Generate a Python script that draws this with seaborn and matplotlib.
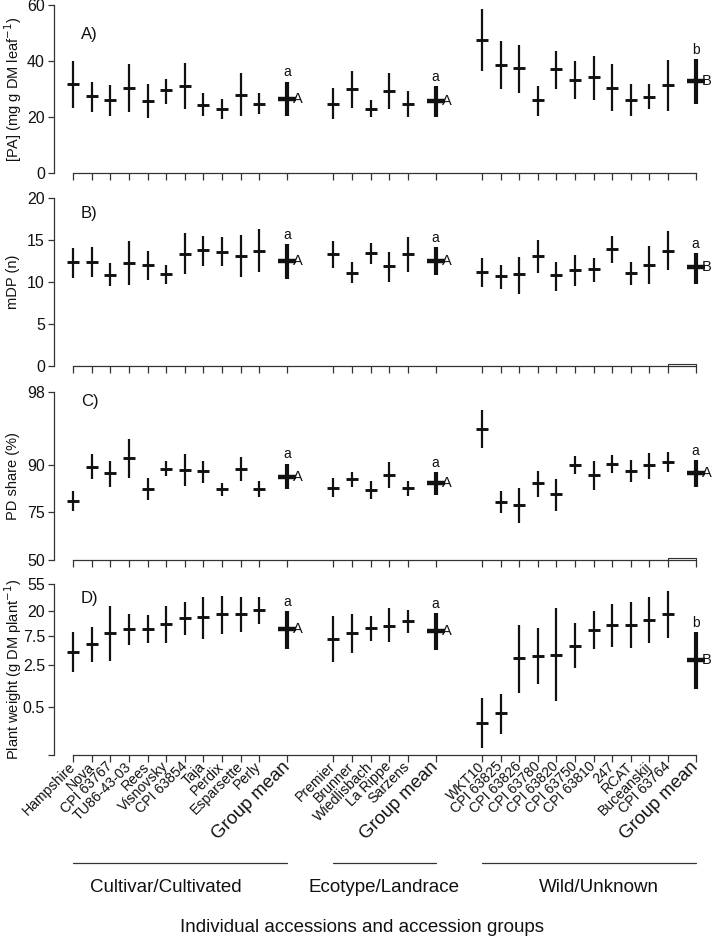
import numpy as np
import pandas as pd
import matplotlib
matplotlib.use("Agg")
import matplotlib.pyplot as plt
import matplotlib.transforms as mtrans
import seaborn as sns
from matplotlib.ticker import NullLocator

# ---------------- data ----------------
cult_names = ["Hampshire", "Nova", "CPI 63767", "TU86-43-03", "Rees", "Visnovsky",
              "CPI 63854", "Taja", "Perdix", "Esparsette", "Perly"]
eco_names = ["Premier", "Brunner", "Wiedlisbach", "La Rippe", "Sarzens"]
wild_names = ["WKT10", "CPI 63825", "CPI 63826", "CPI 63780", "CPI 63820", "CPI 63750",
              "CPI 63810", "247", "RCAT", "Buceanskij", "CPI 63764"]
group_titles = ["Cultivar/Cultivated", "Ecotype/Landrace", "Wild/Unknown"]
mean_label = "Group mean"

# order: 11 cultivated, group mean, 5 ecotype, group mean, 11 wild, group mean
pa_mean = [31.7, 27.4, 26.2, 30.5, 25.8, 29.6, 31.1, 24.5, 23.0, 28.0, 24.8, 26.4,
           24.8, 29.9, 23.0, 29.3, 24.6, 25.9,
           47.6, 38.5, 37.5, 26.1, 37.2, 33.4, 34.3, 30.5, 26.1, 27.3, 31.5, 32.9]
pa_lo = [23.4, 21.7, 20.5, 21.7, 19.8, 24.8, 22.9, 20.3, 19.4, 20.5, 21.2, 20.3,
         19.2, 23.4, 20.0, 22.8, 20.0, 20.0,
         36.6, 29.9, 28.7, 20.4, 29.9, 26.5, 26.1, 22.2, 20.4, 23.0, 22.3, 24.7]
pa_hi = [40.0, 32.5, 31.5, 39.0, 31.7, 33.7, 39.4, 28.5, 26.6, 35.7, 28.5, 32.7,
         30.5, 36.6, 26.1, 35.7, 29.3, 31.1,
         58.5, 47.1, 45.7, 31.1, 43.7, 40.0, 41.9, 38.9, 31.8, 31.8, 40.4, 40.6]

mdp_mean = [12.32, 12.32, 10.85, 12.2, 12.0, 10.93, 13.35, 13.75, 13.58, 13.1, 13.7, 12.48,
            13.27, 11.05, 13.4, 11.92, 13.3, 12.44,
            11.17, 10.66, 10.9, 13.07, 10.78, 11.37, 11.49, 13.94, 11.05, 12.04, 13.7, 11.76]
mdp_lo = [10.46, 10.58, 9.5, 9.63, 10.26, 9.74, 10.9, 11.88, 11.88, 10.6, 11.2, 10.3,
          11.6, 9.83, 12.16, 10.02, 11.2, 10.8,
          9.39, 9.19, 8.56, 11.05, 8.95, 9.5, 10.02, 12.2, 9.63, 9.74, 11.4, 9.78]
mdp_hi = [14.06, 14.14, 12.2, 14.8, 13.67, 12.0, 15.8, 15.45, 15.3, 15.57, 16.24, 14.5,
          14.85, 12.32, 14.58, 13.58, 15.3, 14.1,
          12.87, 11.96, 13.0, 14.97, 12.32, 13.19, 12.8, 15.49, 12.32, 14.22, 16.04, 13.46]

pd_mean = [79.7, 89.6, 88.1, 91.4, 83.7, 89.2, 89.0, 88.6, 83.7, 89.2, 83.7, 87.2,
           84.1, 86.7, 83.5, 87.8, 84.0, 85.5,
           95.4, 79.4, 78.1, 85.6, 82.0, 90.0, 87.8, 90.3, 88.7, 90.0, 90.7, 88.1]
pd_lo = [75.6, 86.7, 84.4, 87.0, 79.9, 87.5, 84.8, 85.7, 81.5, 86.0, 81.0, 83.7,
         81.0, 84.4, 80.3, 84.0, 81.6, 81.8,
         93.0, 74.9, 70.0, 81.2, 75.6, 87.9, 83.5, 88.1, 85.8, 86.7, 88.5, 84.3]
pd_hi = [83.1, 92.0, 90.8, 94.3, 87.0, 90.8, 92.1, 90.8, 85.7, 91.6, 86.0, 90.3,
         86.9, 88.5, 86.2, 90.7, 86.1, 88.4,
         97.0, 83.1, 84.2, 88.7, 86.6, 91.7, 90.8, 91.9, 90.9, 92.2, 92.4, 91.0]

pw_mean = [4.04, 5.62, 8.48, 9.77, 9.77, 12.0, 14.9, 15.5, 17.6, 17.6, 20.7, 9.77,
           6.73, 8.38, 10.4, 11.2, 13.4, 9.15,
           0.264, 0.388, 3.21, 3.54, 3.64, 5.2, 9.4, 11.5, 11.5, 14.1, 17.4, 3.0]
pw_lo = [1.88, 2.82, 2.89, 5.4, 5.7, 5.77, 7.85, 6.81, 8.06, 8.91, 11.8, 4.59,
         2.75, 3.89, 6.16, 5.93, 8.57, 4.41,
         0.101, 0.173, 0.837, 1.18, 0.623, 2.19, 4.59, 4.95, 4.71, 5.7, 7.07, 0.987]
pw_hi = [8.7, 10.8, 24.2, 17.4, 16.7, 24.2, 28.2, 33.4, 35.5, 33.4, 34.2, 20.0,
         16.3, 17.6, 16.3, 21.9, 20.7, 18.1,
         0.69, 0.814, 11.5, 10.4, 21.9, 12.3, 19.8, 26.1, 27.6, 33.8, 42.0, 8.91]

small_letters = {"A": ["a", "a", "b"], "B": ["a", "a", "a"], "C": ["a", "a", "a"], "D": ["a", "a", "b"]}
cap_letters = {"A": ["A", "A", "B"], "B": ["A", "A", "B"], "C": ["A", "A", "A"], "D": ["A", "A", "B"]}

pa_ticks = [0, 20, 40, 60]
mdp_ticks = [0, 5, 10, 15, 20]
pd_ticks = [50, 75, 90, 98]
pw_ticks = [0.078, 0.5, 2.5, 7.5, 20, 55]
pw_ticklabels = ["", "0.5", "2.5", "7.5", "20", "55"]

# ---------------- layout positions ----------------
labels, pos, is_mean = [], [], []
start = 1.0
for names in (cult_names, eco_names, wild_names):
    for i, n in enumerate(names):
        labels.append(n); pos.append(start + i); is_mean.append(False)
    gm = start + len(names) - 1 + 1.5
    labels.append(mean_label); pos.append(gm); is_mean.append(True)
    start = gm + 2.5

df = pd.DataFrame({"label": labels, "pos": pos, "is_mean": is_mean,
                   "pa": pa_mean, "pa_lo": pa_lo, "pa_hi": pa_hi,
                   "mdp": mdp_mean, "mdp_lo": mdp_lo, "mdp_hi": mdp_hi,
                   "pd": pd_mean, "pd_lo": pd_lo, "pd_hi": pd_hi,
                   "pw": pw_mean, "pw_lo": pw_lo, "pw_hi": pw_hi})

sns.set_theme(style="ticks")
plt.rcParams["font.family"] = ["Liberation Sans", "DejaVu Sans"]

W, H = 714, 939
fig = plt.figure(figsize=(W / 100, H / 100), dpi=100)

xl, xr = -0.04, 35.45
left = 54 / W
width = 659.4 / W

def fwd(p):
    p = np.clip(np.asarray(p, dtype=float), 1e-6, 100 - 1e-6)
    return np.log(p / (100 - p))

def inv(l):
    return 100.0 / (1.0 + np.exp(-np.asarray(l, dtype=float)))

panels = [
    ("A", "pa", (5, 173.3), (0, 60), pa_ticks, [str(t) for t in pa_ticks],
     "[PA] (mg g DM leaf$^{-1}$)", "linear", 0.822, False),
    ("B", "mdp", (197.7, 366), (0, 20), mdp_ticks, [str(t) for t in mdp_ticks],
     "mDP (n)", "linear", 0.907, True),
    ("C", "pd", (391.7, 560), (50, 98), pd_ticks, [str(t) for t in pd_ticks],
     "PD share (%)", "logit", 0.94, True),
    ("D", "pw", (584.3, 755), (0.078, 55), pw_ticks, pw_ticklabels,
     "Plant weight (g DM plant$^{-1}$)", "log", 0.918, False),
]

ink = "#111111"
axes = []
for key, col, (ytop, ybot), ylim, yt, ytl, ylab, scale, ly, bump in panels:
    ax = fig.add_axes([left, (H - ybot) / H, width, (ybot - ytop) / H])
    axes.append(ax)
    ind = df[~df.is_mean]
    gm = df[df.is_mean]
    ax.vlines(ind["pos"], ind[col + "_lo"], ind[col + "_hi"], color=ink, lw=1.6)
    ax.vlines(gm["pos"], gm[col + "_lo"], gm[col + "_hi"], color=ink, lw=3.0)
    sns.scatterplot(data=ind, x="pos", y=col, marker="_", s=70, linewidth=2.1,
                    color=ink, ax=ax, legend=False)
    sns.scatterplot(data=gm, x="pos", y=col, marker="_", s=160, linewidth=3.2,
                    color=ink, ax=ax, legend=False)
    if scale == "log":
        ax.set_yscale("log")
    elif scale == "logit":
        ax.set_yscale("function", functions=(fwd, inv))
    ax.set_xlim(xl, xr)
    ax.set_ylim(*ylim)
    ax.set_yticks(yt)
    ax.set_yticklabels(ytl)
    ax.yaxis.set_minor_locator(NullLocator())
    ax.xaxis.set_minor_locator(NullLocator())
    ax.set_xticks(df["pos"])
    ax.set_xlabel("")
    ax.set_ylabel("")
    sns.despine(ax=ax)
    ax.spines["left"].set_bounds(yt[0], yt[-1])
    ax.spines["bottom"].set_bounds(df["pos"].iloc[0], df["pos"].iloc[-1])
    for s in ("left", "bottom"):
        ax.spines[s].set_linewidth(0.9)
        ax.spines[s].set_color("#333333")
    ax.tick_params(axis="y", length=4.5, width=0.9, color="#333333",
                   labelsize=11.5, labelcolor=ink, pad=2)
    ax.tick_params(axis="x", length=4.8, width=0.9, color="#333333",
                   labelcolor=ink, pad=2)
    ax.patch.set_alpha(0)
    if bump:
        hb = 2.0 / (ybot - ytop)
        p_last = df["pos"].iloc[-1]
        p_prev = df["pos"].iloc[-2]
        ax.plot([p_prev, p_prev, p_last, p_last], [0, hb, hb, 0],
                transform=ax.get_xaxis_transform(), color="#333333", lw=0.8,
                clip_on=False)
    # panel letter
    ax.text(1.41, ly, key + ")", transform=ax.get_xaxis_transform(),
            fontsize=12, color=ink, va="center", ha="left")
    # significance letters
    for (_, r), sl, cl in zip(gm.iterrows(), small_letters[key], cap_letters[key]):
        ax.annotate(sl, (r["pos"], r[col + "_hi"]), xytext=(0, 1.5),
                    textcoords="offset points", ha="center", va="bottom",
                    fontsize=10, color=ink)
        ax.annotate(cl, (r["pos"], r[col]), xytext=(4.5, 0),
                    textcoords="offset points", ha="left", va="center",
                    fontsize=10.5, color=ink)
    # y label
    fig.text(13 / W, 1 - ((ytop + ybot) / 2) / H, ylab, rotation=90,
             ha="center", va="center", fontsize=10.5, color=ink)
    if key != "D":
        ax.set_xticklabels([])
    else:
        ax.set_xticklabels(df["label"], rotation=45, ha="right",
                           rotation_mode="anchor")
        for t, m in zip(ax.get_xticklabels(), df["is_mean"]):
            t.set_fontsize(13.3 if m else 10.2)
            t.set_va("center")

# group brackets and labels
axd = axes[-1]
tr = mtrans.blended_transform_factory(axd.transData, fig.transFigure)
y_line = 1 - 862.7 / H
y_txt = 1 - 888 / H
text_centers = [5.96, 17.72, 29.3]
gstart = 0
for names, title, xc in zip((cult_names, eco_names, wild_names), group_titles, text_centers):
    p0 = pos[gstart]
    p1 = pos[gstart + len(names)]
    axd.plot([p0, p1], [y_line, y_line], transform=tr, color="#333333",
             lw=0.9, clip_on=False)
    axd.text(xc, y_txt, title, transform=tr, ha="center", va="center",
             fontsize=13.5, color=ink)
    gstart += len(names) + 1

fig.text(362 / W, 1 - 927 / H, "Individual accessions and accession groups",
         ha="center", va="center", fontsize=13.5, color=ink)

fig.savefig("out.png", dpi=100)
